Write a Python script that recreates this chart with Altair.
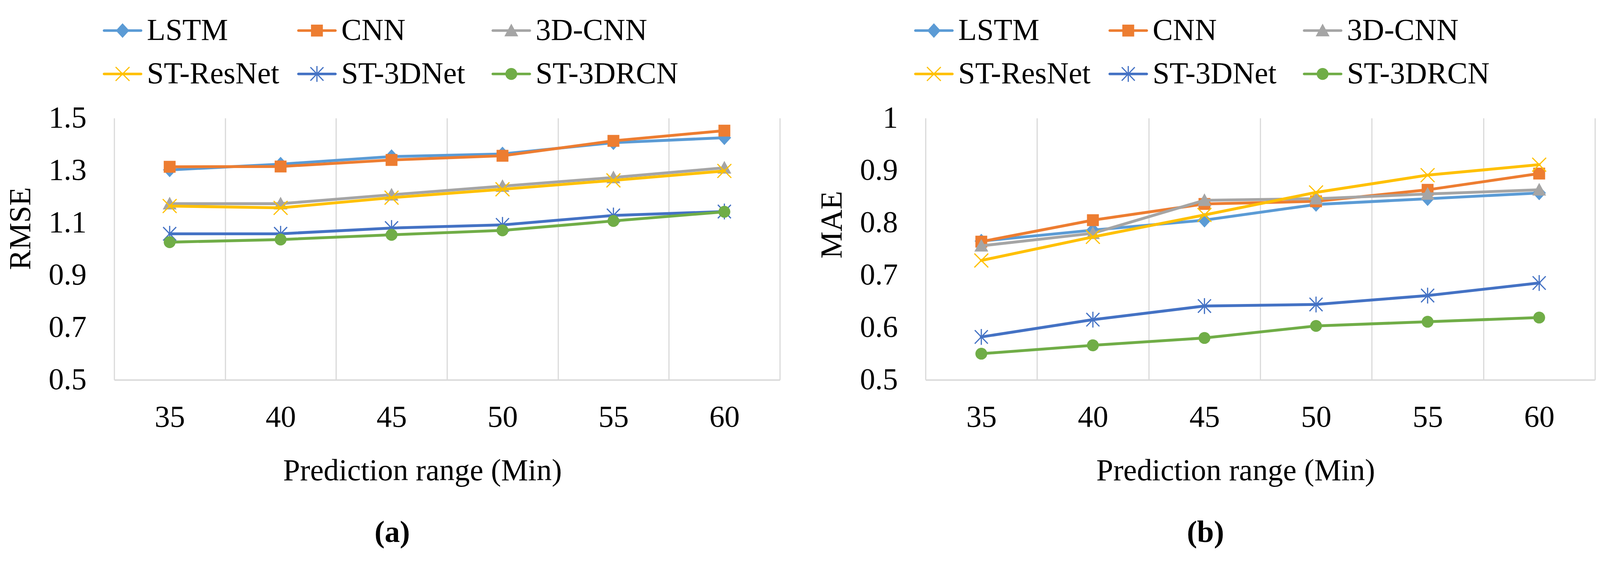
import altair as alt
import pandas as pd
import math

# ---------------- data ----------------
ranges = [35, 40, 45, 50, 55, 60]
models = ["LSTM", "CNN", "3D-CNN", "ST-ResNet", "ST-3DNet", "ST-3DRCN"]
colors = ["#5B9BD5", "#ED7D31", "#A5A5A5", "#FFC000", "#4472C4", "#70AD47"]

rmse_lstm = [1.302, 1.324, 1.353, 1.363, 1.406, 1.425]
rmse_cnn = [1.314, 1.315, 1.340, 1.356, 1.413, 1.452]
rmse_3dcnn = [1.173, 1.173, 1.207, 1.240, 1.273, 1.310]
rmse_resnet = [1.164, 1.157, 1.196, 1.228, 1.262, 1.298]
rmse_3dnet = [1.058, 1.058, 1.080, 1.092, 1.128, 1.143]
rmse_3drcn = [1.026, 1.036, 1.054, 1.071, 1.107, 1.142]

mae_lstm = [0.765, 0.786, 0.805, 0.835, 0.846, 0.857]
mae_cnn = [0.764, 0.805, 0.836, 0.841, 0.863, 0.894]
mae_3dcnn = [0.756, 0.780, 0.843, 0.846, 0.855, 0.863]
mae_resnet = [0.728, 0.773, 0.815, 0.858, 0.891, 0.911]
mae_3dnet = [0.582, 0.615, 0.641, 0.644, 0.661, 0.685]
mae_3drcn = [0.550, 0.566, 0.580, 0.603, 0.611, 0.619]

rmse_ticks = [0.5, 0.7, 0.9, 1.1, 1.3, 1.5]
mae_ticks = [0.5, 0.6, 0.7, 0.8, 0.9, 1.0]

# ---------------- styling ----------------
FONT = "Liberation Serif"
FS = 80
S = 10816  # symbol area -> 104 px unit box
GRID = "#D9D9D9"


def bar(x0, y0, x1, y1, t):
    # thin filled bar from (x0,y0) to (x1,y1), half thickness t, clockwise
    dx, dy = x1 - x0, y1 - y0
    L = math.hypot(dx, dy)
    nx, ny = -dy / L * t, dx / L * t
    pts = [(x0 - nx, y0 - ny), (x1 - nx, y1 - ny), (x1 + nx, y1 + ny), (x0 + nx, y0 + ny)]
    area = sum(pts[i][0] * pts[(i + 1) % 4][1] - pts[(i + 1) % 4][0] * pts[i][1] for i in range(4))
    if area < 0:
        pts = pts[::-1]
    return "M" + "L".join(f"{x:.3f},{y:.3f}" for x, y in pts) + "Z"


diamond = "M0,-0.37L0.34,0L0,0.37L-0.34,0Z"
square = "M-0.30,-0.30H0.30V0.30H-0.30Z"
triangle = "M0,-0.35L0.35,0.29L-0.35,0.29Z"
xmark = bar(-0.35, -0.35, 0.35, 0.35, 0.03) + bar(0.35, -0.35, -0.35, 0.35, 0.03)
star = (bar(-0.33, -0.34, 0.33, 0.34, 0.03) + bar(0.33, -0.34, -0.33, 0.34, 0.03)
        + bar(0, -0.40, 0, 0.40, 0.03))
circle = "M0.30,0A0.30,0.30 0 1,1 -0.30,0A0.30,0.30 0 1,1 0.30,0Z"
markers = [diamond, square, triangle, xmark, star, circle]
seg = "M-0.935,-0.065H0.935A0.065,0.065 0 0,1 0.935,0.065H-0.935A0.065,0.065 0 0,1 -0.935,-0.065Z"
legend_shapes = [seg + m for m in markers]


def long_df(series):
    rows = []
    for m, vals in zip(models, series):
        for r, v in zip(ranges, vals):
            rows.append({"range": r, "model": m, "value": v})
    return pd.DataFrame(rows)


def panel(series, ytitle, yticks, ydomain, yfmt, letter, width, height, ytitle_y):
    df = long_df(series)
    base = alt.Chart(df)
    x = alt.X(
        "range:O",
        sort=ranges,
        bandPosition=0.5,
        scale=alt.Scale(type="band", paddingInner=0, paddingOuter=0),
        axis=alt.Axis(
            title="Prediction range (Min)",
            labelAngle=0,
            labelFont=FONT, labelFontSize=FS, labelColor="black", labelPadding=60,
            titleFont=FONT, titleFontSize=FS, titleFontWeight="normal", titleColor="black",
            titleX=width / 2 - 65, titleY=200,
            grid=True, gridColor=GRID, gridWidth=3, tickBand="extent",
            ticks=False, domain=True, domainColor=GRID, domainWidth=4,
        ),
    )
    y = alt.Y(
        "value:Q",
        scale=alt.Scale(domain=ydomain, nice=False, zero=False),
        axis=alt.Axis(
            title=ytitle, values=yticks, format=yfmt,
            labelFont=FONT, labelFontSize=FS, labelColor="black", labelPadding=73,
            titleFont=FONT, titleFontSize=FS, titleFontWeight="normal", titleColor="black",
            titleX=-205, titleY=ytitle_y,
            grid=False, ticks=False, domain=False,
        ),
    )
    layers = []
    for m, mk, c in zip(models, markers, colors):
        sub = base.transform_filter(alt.datum.model == m)
        layers.append(
            sub.mark_line(color=c, strokeWidth=7.5, strokeCap="round", strokeJoin="round").encode(x=x, y=y)
        )
        layers.append(
            sub.mark_point(shape=mk, size=S, filled=True, fill=c, opacity=1, strokeWidth=0).encode(x=x, y=y)
        )
    leg = alt.Legend(
        title=None, orient="none", legendX=-30, legendY=-282, direction="horizontal",
        columns=3, gridAlign="all", columnPadding=19, rowPadding=22,
        symbolSize=S, symbolStrokeWidth=0, symbolOpacity=1,
        labelFont=FONT, labelFontSize=FS, labelColor="black", labelOffset=12,
        labelLimit=0, padding=0,
    )
    layers.append(
        base.mark_point(filled=True, opacity=0, size=S, strokeWidth=0).encode(
            x=x, y=y,
            color=alt.Color("model:N", scale=alt.Scale(domain=models, range=colors), legend=leg),
            shape=alt.Shape("model:N", scale=alt.Scale(domain=models, range=legend_shapes), legend=leg),
        )
    )
    return alt.layer(*layers).properties(
        width=width, height=height,
        title=alt.TitleParams(
            letter, orient="bottom", anchor="middle", frame="group", dx=-144, offset=84,
            font=FONT, fontSize=FS, fontWeight="bold", color="black",
        ),
    )


left = panel(
    [rmse_lstm, rmse_cnn, rmse_3dcnn, rmse_resnet, rmse_3dnet, rmse_3drcn],
    "RMSE", rmse_ticks, [0.5, 1.5], ".1f", "(a)", 1750, 688, 290,
)
right = panel(
    [mae_lstm, mae_cnn, mae_3dcnn, mae_resnet, mae_3dnet, mae_3drcn],
    "MAE", mae_ticks, [0.5, 1.0], "~g", "(b)", 1760, 688, 280,
)

chart = (
    alt.hconcat(left, right, spacing=97)
    .resolve_scale(x="independent", y="independent", color="independent", shape="independent")
    .resolve_legend(color="independent", shape="independent")
    .properties(padding={"left": 6, "top": 1, "right": 5, "bottom": 5}, background="white")
    .configure_view(stroke=None)
)

chart.save("out.html", embed_options={"renderer": "svg", "actions": False})
